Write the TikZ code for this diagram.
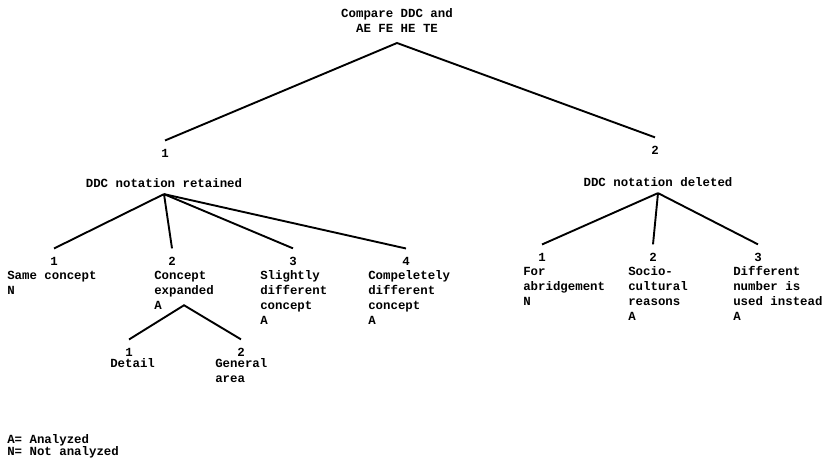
\documentclass[tikz,border=0pt]{standalone}
\usepackage{fontspec}
\setmonofont{Liberation Mono}
\newcommand{\diagfont}{\fontsize{9.3pt}{11.25pt}\selectfont\ttfamily\bfseries}
\newcommand{\keyfont}{\fontsize{9.3pt}{8.3pt}\selectfont\ttfamily\bfseries}
\tikzset{
	branch/.style={line width=0.5mm},
	num/.style={font=\diagfont, inner sep=0pt, outer ysep=7pt, anchor=base},
	head/.style={font=\diagfont, inner sep=0pt, outer ysep=4.5pt, anchor=base},
	% leaves are placed at the baseline of their last line
	leaf/.style={font=\diagfont, inner sep=0pt, align=left, anchor=base west},
}
\begin{document}
\begin{tikzpicture}[x=0.75pt,y=-0.75pt]
	\useasboundingbox (0,0) rectangle (829,466);
	
	\node[head, align=center, anchor=south, outer ysep=7.5pt] (root) at (397,43) {Compare DDC and\\AE FE HE TE};
	\node[num] (n1) at (165,158) {1};
	\node[head] (ret) at (164,188) {DDC notation retained};
	\node[num] (n2) at (655,155) {2};
	\node[head] (del) at (658,187) {DDC notation deleted};
	\draw[branch] (n1.north) -- (root.south) -- (n2.north);
	
	% retained
	\node[num] (n11) at (54,266) {1};
	\node[num] (n12) at (172,266) {2};
	\node[num] (n13) at (293,266) {3};
	\node[num] (n14) at (406,266) {4};
	\node[leaf] (same) at (7,295) {Same concept\\N};
	\node[leaf] (expd) at (154,310) {Concept\\expanded\\A};
	\node[leaf] (slight) at (260,325) {Slightly\\different\\concept\\A};
	\node[leaf] (compl) at (368,325) {Compeletely\\different\\concept\\A};
	\draw[branch] (ret.south) -- (n11.north);
	\draw[branch] (ret.south) -- (n12.north);
	\draw[branch] (ret.south) -- (n13.north);
	\draw[branch] (ret.south) -- (n14.north);
	
	% expanded
	\node[num] (n121) at (129,357) {1};
	\node[num] (n122) at (241,357) {2};
	\node[leaf] (detail) at (110,368) {Detail};
	\node[leaf] (general) at (215,383) {General\\area};
	\draw[branch] (n121.north) -- ([yshift=3.75pt]expd.south) -- (n122.north);
	
	% deleted
	\node[num] (n21) at (542,262) {1};
	\node[num] (n22) at (653,262) {2};
	\node[num] (n23) at (758,262) {3};
	\node[leaf] (abr) at (523,306) {For\\abridgement\\N};
	\node[leaf] (socio) at (628,321) {Socio-\\cultural\\reasons\\A};
	\node[leaf] (diff) at (733,321) {Different\\number is\\used instead\\A};
	\draw[branch] (del.south) -- (n21.north);
	\draw[branch] (del.south) -- (n22.north);
	\draw[branch] (del.south) -- (n23.north);
	
	% key
	\node[leaf, font=\keyfont] (key) at (7,456) {A= Analyzed\\N= Not analyzed};
	
\end{tikzpicture}
\end{document}
